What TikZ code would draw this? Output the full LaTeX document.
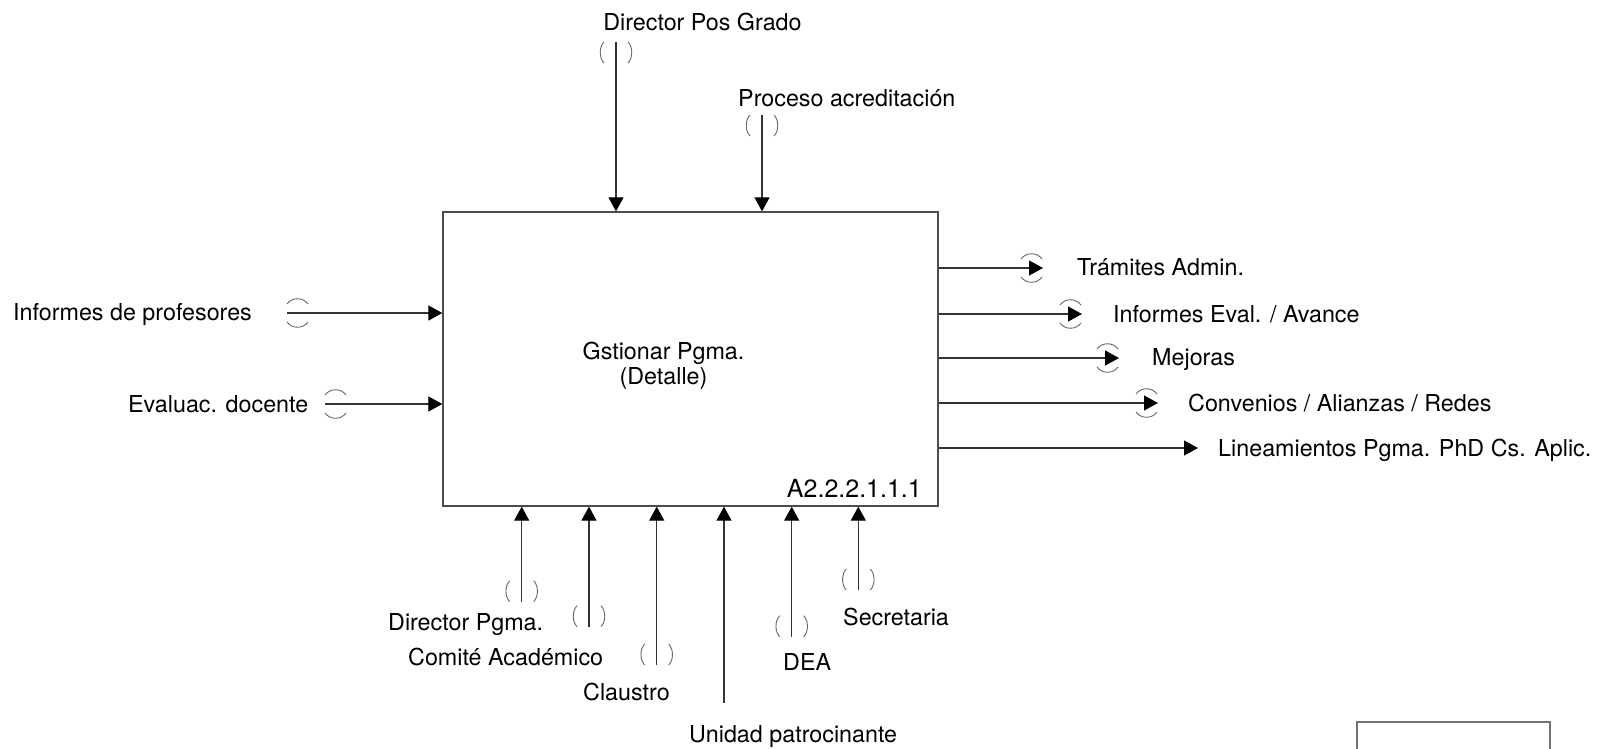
\documentclass[tikz,border=0pt]{standalone}
\usepackage{fontspec}
\setmainfont{TeX Gyre Heros}
\usetikzlibrary{arrows.meta}
\newcommand\tunV[2]{%
  \draw[tunnel] ({#1-12},{#2}) .. controls ({#1-17},{#2+5}) and ({#1-17},{#2+16}) .. ({#1-12},{#2+21});
  \draw[tunnel] ({#1+12},{#2}) .. controls ({#1+17},{#2+5}) and ({#1+17},{#2+16}) .. ({#1+12},{#2+21});}
\newcommand\tunH[2]{%
  \draw[tunnel] ({#1},{#2-9}) .. controls ({#1+5},{#2-16}) and ({#1+16},{#2-16}) .. ({#1+21},{#2-9});
  \draw[tunnel] ({#1},{#2+9}) .. controls ({#1+5},{#2+16}) and ({#1+16},{#2+16}) .. ({#1+21},{#2+9});}
\begin{document}
\begin{tikzpicture}[x=1pt,y=-1pt,
  lbl/.style={inner sep=0pt,font=\fontsize{23.3}{27}\selectfont,text=black},
  arr/.style={draw=black!80,line width=1.2pt,-{Triangle[length=14pt,width=15pt,color=black]}},
  tunnel/.style={draw=black!60,line width=0.9pt},
  actbox/.style={draw=black!70,line width=1.3pt,minimum width=495pt,minimum height=294pt,inner sep=0pt}]
\useasboundingbox (0,0) rectangle (1598,748);
% activity box
\node[actbox] (box) at (690.5,359) {};
\node[lbl,align=center,anchor=base] (t1) at (663.5,359) {Gstionar Pgma.};
\node[lbl,align=center,anchor=base] (t2) at (663.5,384) {(Detalle)};
\node[lbl,anchor=base east,font=\fontsize{25}{29}\selectfont] (num) at (922,497) {A2.2.2.1.1.1};
% top controls
\node[lbl,anchor=base] (dpg) at (702.5,30) {Director Pos Grado};
\coordinate (dpgS) at (616,42);
\draw[arr] (dpgS) -- (dpgS |- box.north);
\tunV{616}{42}
\node[lbl,anchor=base west] (pac) at (738,106) {Proceso acreditación};
\coordinate (pacS) at (762,115);
\draw[arr] (pacS) -- (pacS |- box.north);
\tunV{762}{115}
% inputs
\node[lbl,anchor=base west] (inf) at (13,320) {Informes de profesores};
\coordinate (infS) at (287,313);
\draw[arr] (infS) -- (infS -| box.west);
\tunH{287}{313}
\node[lbl,anchor=base west] (eva) at (128,412) {Evaluac. docente};
\coordinate (evaS) at (325,404);
\draw[arr] (evaS) -- (evaS -| box.west);
\tunH{325}{404}
% outputs
\coordinate (o1) at (1043,268);
\draw[arr] (o1 -| box.east) -- (o1);
\tunH{1021}{268}
\node[lbl,anchor=base west] (o1l) at (1077,275) {Trámites Admin.};
\coordinate (o2) at (1082,314);
\draw[arr] (o2 -| box.east) -- (o2);
\tunH{1060}{314}
\node[lbl,anchor=base west] (o2l) at (1113,322) {Informes Eval. / Avance};
\coordinate (o3) at (1119,358);
\draw[arr] (o3 -| box.east) -- (o3);
\tunH{1097}{358}
\node[lbl,anchor=base west] (o3l) at (1152,365) {Mejoras};
\coordinate (o4) at (1158,403);
\draw[arr] (o4 -| box.east) -- (o4);
\tunH{1136}{403}
\node[lbl,anchor=base west] (o4l) at (1188,411) {Convenios / Alianzas / Redes};
\coordinate (o5) at (1198,448);
\draw[arr] (o5 -| box.east) -- (o5);
\node[lbl,anchor=base west] (o5l) at (1218,456) {Lineamientos Pgma. PhD Cs. Aplic.};
% mechanisms
\coordinate (m1) at (521.7,601.7);
\draw[arr] (m1) -- (m1 |- box.south);
\tunV{521.7}{580.7}
\node[lbl,anchor=base west] (m1l) at (388,630) {Director Pgma.};
\coordinate (m2) at (589,626.7);
\draw[arr] (m2) -- (m2 |- box.south);
\tunV{589}{605.7}
\node[lbl,anchor=base west] (m2l) at (408,665) {Comité Académico};
\coordinate (m3) at (656.7,665);
\draw[arr] (m3) -- (m3 |- box.south);
\tunV{656.7}{644}
\node[lbl,anchor=base west] (m3l) at (583,700) {Claustro};
\coordinate (m4) at (724,703);
\draw[arr] (m4) -- (m4 |- box.south);
\node[lbl,anchor=base west] (m4l) at (689,742) {Unidad patrocinante};
\coordinate (m5) at (791.7,636.7);
\draw[arr] (m5) -- (m5 |- box.south);
\tunV{791.7}{615.7}
\node[lbl,anchor=base west] (m5l) at (783,670) {DEA};
\coordinate (m6) at (858.3,590);
\draw[arr] (m6) -- (m6 |- box.south);
\tunV{858.3}{569}
\node[lbl,anchor=base west] (m6l) at (843,625) {Secretaria};
% corner frame
\draw[draw=black!55,line width=1.5pt] (1357,750) -- (1357,722) -- (1550,722) -- (1550,750);
\end{tikzpicture}
\end{document}
